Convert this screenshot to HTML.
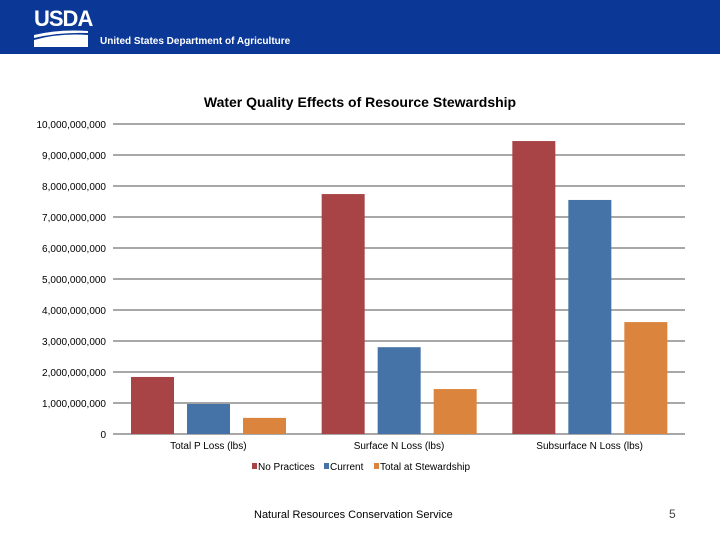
<!DOCTYPE html>
<html><head><meta charset="utf-8"><style>
body{margin:0;width:720px;height:540px;background:#fff;position:relative;overflow:hidden;font-family:"Liberation Sans",sans-serif}
#hdr{position:absolute;left:0;top:0;width:720px;height:54px;background:#0b3896}
text{font-family:"Liberation Sans",sans-serif}
</style></head><body>
<div id="hdr">
<div style="position:absolute;left:34px;top:6px;color:#fff;font-weight:bold;font-size:22px;letter-spacing:-1px">USDA</div>
<svg style="position:absolute;left:34px;top:29px" width="54" height="18"><path d="M0 6 Q25 0 54 2 L54 4 Q25 3 0 9Z M0 11 Q25 4 54 6 L54 18 L0 18Z" fill="#fff"/></svg>
<div style="position:absolute;left:100px;top:36px;color:#fff;font-weight:bold;font-size:10px">United States Department of Agriculture</div>
</div>
<svg id="chart" width="720" height="540" style="position:absolute;left:0;top:0"></svg>
<div style="position:absolute;left:254px;top:509px;font-size:11px;color:#000">Natural Resources Conservation Service</div>
<div style="position:absolute;left:669px;top:507px;font-size:12px;color:#444">5</div>
<script>
const categories=["Total P Loss (lbs)","Surface N Loss (lbs)","Subsurface N Loss (lbs)"];
const seriesNames=["No Practices","Current","Total at Stewardship"];
const noPractices=[1840000000,7740000000,9450000000];
const current=[970000000,2800000000,7550000000];
const stewardship=[520000000,1450000000,3610000000];
const ticks=[0,1e9,2e9,3e9,4e9,5e9,6e9,7e9,8e9,9e9,1e10];
const tickLabels=["0","1,000,000,000","2,000,000,000","3,000,000,000","4,000,000,000","5,000,000,000","6,000,000,000","7,000,000,000","8,000,000,000","9,000,000,000","10,000,000,000"];
const colors=["#a84446","#4572a7","#db843d"];
const svg=document.getElementById('chart');const NS="http://www.w3.org/2000/svg";
const x0=113,x1=685,yb=434,yt=124;
const y=v=>yb-(v/1e10)*(yb-yt);
const gw=(x1-x0)/categories.length;
function mk(t,a,txt){const e=document.createElementNS(NS,t);for(const k in a)e.setAttribute(k,a[k]);if(txt!=null)e.textContent=txt;svg.appendChild(e);return e;}
const title=mk('text',{x:360,y:107,'text-anchor':'middle','font-size':14,'font-weight':'bold'},'Water Quality Effects of Resource Stewardship');


ticks.forEach((t,i)=>{
 const l=mk('line',{x1:x0,x2:x1,y1:y(t),y2:y(t),stroke:'#8c8c8c','stroke-width':1.5});
 
 
 const tx=mk('text',{x:106,y:y(t)+4,'text-anchor':'end','font-size':10},tickLabels[i]);
 
 
});
const series=[noPractices,current,stewardship];
categories.forEach((c,ci)=>{
 const gx=x0+ci*gw;
 series.forEach((s,si)=>{
  const bx=gx+18+si*56;
  const r=mk('rect',{x:bx,y:y(s[ci]),width:43,height:yb-y(s[ci]),fill:colors[si]});
  
  
 });
 const lt=mk('text',{x:gx+gw/2,y:449,'text-anchor':'middle','font-size':10},c);
 
 
});
const lx=[252,324,374];
seriesNames.forEach((n,i)=>{
 const r=mk('rect',{x:lx[i],y:463,width:5,height:6,fill:colors[i]});
 
 
 const t=mk('text',{x:lx[i]+6,y:470,'font-size':10},n);
 
 
});
</script>
</body></html>
